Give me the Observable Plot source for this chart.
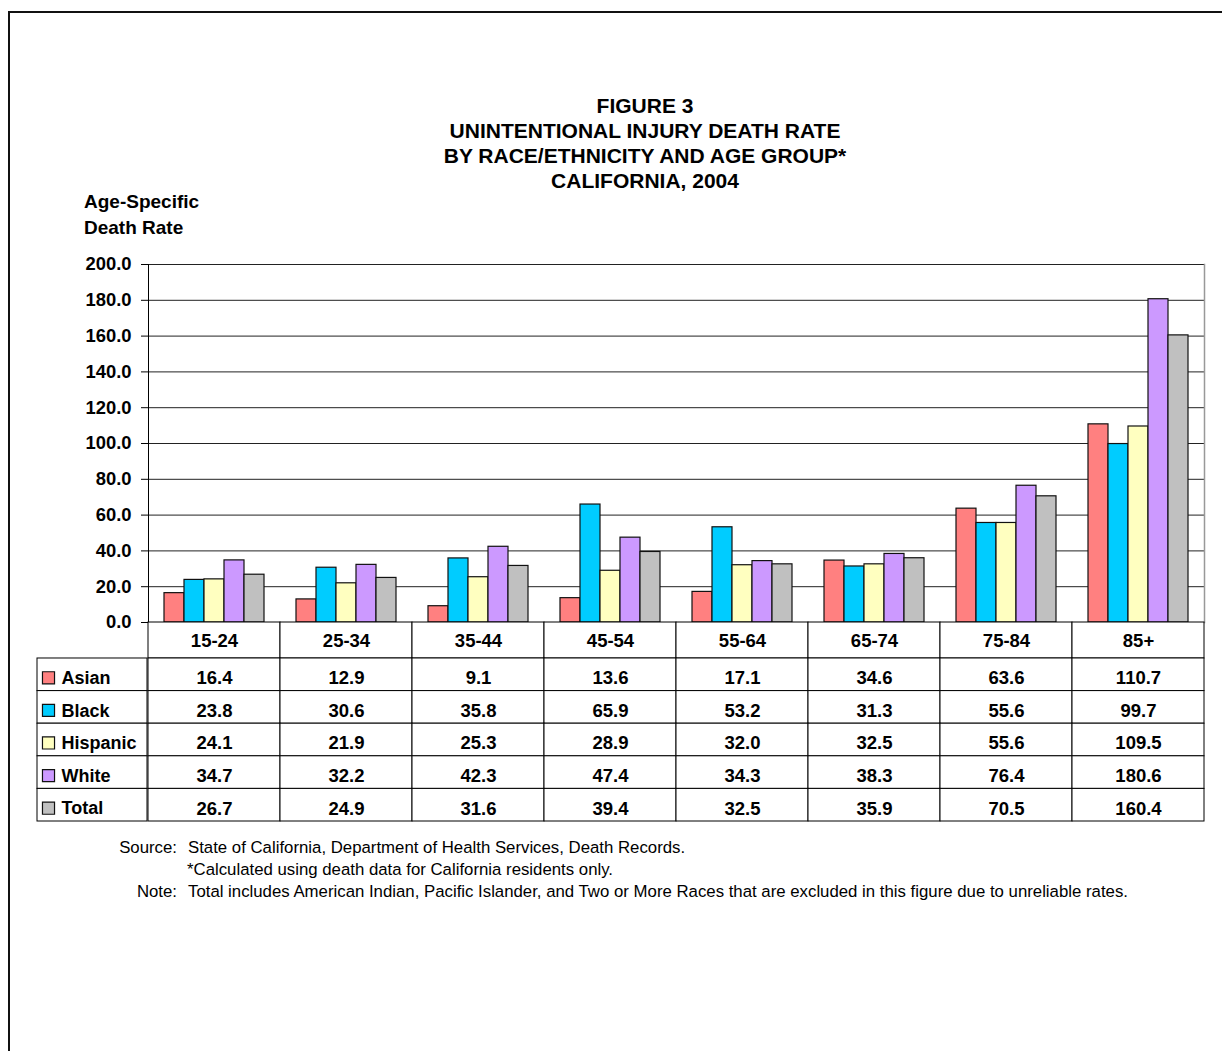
<!DOCTYPE html>
<html>
<head>
<meta charset="utf-8">
<script src="https://cdn.jsdelivr.net/npm/d3@7"></script>
<script src="https://cdn.jsdelivr.net/npm/@observablehq/plot@0.6"></script>
<style>
  html, body { margin: 0; padding: 0; background: #fff; }
  body { width: 1222px; height: 1051px; overflow: hidden; position: relative; font-family: "Liberation Sans", Arial, sans-serif; }
  #frame { position: absolute; left: 8px; top: 11px; width: 1400px; height: 1200px; border: 2px solid #111; }
  .abs { position: absolute; }
  #title { left: 0; width: 1290px; top: 93px; text-align: center; font-weight: bold; font-size: 21px; line-height: 25px; color: #000; }
  #ylabel { left: 84px; top: 189px; font-weight: bold; font-size: 19px; line-height: 26px; color: #000; }
  #foot { left: 0; top: 837px; font-size: 16.8px; line-height: 22px; color: #000; }
  #foot .row { position: relative; height: 22px; white-space: nowrap; }
  #foot .lab { position: absolute; right: calc(100% - 177px); }
  #foot .txt { position: absolute; left: 188px; }
</style>
</head>
<body>
<div id="frame"></div>
<div id="title" class="abs">FIGURE 3<br>UNINTENTIONAL INJURY DEATH RATE<br>BY RACE/ETHNICITY AND AGE GROUP*<br>CALIFORNIA, 2004</div>
<div id="ylabel" class="abs">Age-Specific<br>Death Rate</div>
<div id="chart" class="abs" style="left:0;top:250px;"></div>
<div id="table" class="abs" style="left:0;top:622px;"></div>
<div id="labels" class="abs" style="left:37px;top:622px;"></div>
<div id="foot" class="abs" style="width:1222px;">
  <div class="row"><span class="lab">Source:</span><span class="txt">State of California, Department of Health Services, Death Records.</span></div>
  <div class="row"><span class="txt" style="left:187px">*Calculated using death data for California residents only.</span></div>
  <div class="row"><span class="lab">Note:</span><span class="txt">Total includes American Indian, Pacific Islander, and Two or More Races that are excluded in this figure due to unreliable rates.</span></div>
</div>
<script>
const ages = ["15-24","25-34","35-44","45-54","55-64","65-74","75-84","85+"];
const races = ["Asian","Black","Hispanic","White","Total"];
const asian    = [16.4, 12.9,  9.1, 13.6, 17.1, 34.6, 63.6, 110.7];
const black    = [23.8, 30.6, 35.8, 65.9, 53.2, 31.3, 55.6,  99.7];
const hispanic = [24.1, 21.9, 25.3, 28.9, 32.0, 32.5, 55.6, 109.5];
const white    = [34.7, 32.2, 42.3, 47.4, 34.3, 38.3, 76.4, 180.6];
const total    = [26.7, 24.9, 31.6, 39.4, 32.5, 35.9, 70.5, 160.4];
const raceColors = ["#FF8080","#00CCFF","#FFFFC0","#CC99FF","#C0C0C0"];
const yTicks = [0,20,40,60,80,100,120,140,160,180,200];

const series = [asian, black, hispanic, white, total];
const rows = [];
races.forEach((r, i) => ages.forEach((a, j) => rows.push({age: a, race: r, ri: i, value: series[i][j]})));

const FONT = '"Liberation Sans", Arial, sans-serif';
const baseStyle = {fontFamily: FONT, fontWeight: "bold", fontSize: "18px", background: "transparent", overflow: "visible", color: "#000"};

const chart = Plot.plot({
  width: 1222, height: 372,
  marginLeft: 147, marginRight: 17, marginTop: 14, marginBottom: 0,
  style: baseStyle,
  fx: {domain: ages, padding: 0, axis: null},
  x: {domain: races, paddingInner: 0, paddingOuter: 0.72, axis: null},
  y: {domain: [0, 200], axis: null},
  color: {domain: races, range: raceColors},
  marks: [
    Plot.gridY(yTicks.filter(t => t > 0), {stroke: "#222", strokeOpacity: 1, strokeWidth: 1}),
    Plot.barY(rows, {fx: "age", x: "race", y: "value", fill: "race", stroke: "#111", strokeWidth: 1.2}),
    Plot.frame({anchor: "left", facetAnchor: "left", stroke: "#000", strokeWidth: 1}),
    Plot.frame({anchor: "right", facetAnchor: "right", stroke: "#999", strokeWidth: 1.5}),
    Plot.axisY({ticks: yTicks, tickFormat: d => d.toFixed(1), tickSize: 7, tickPadding: 10, label: null, fontSize: 18.4, fontWeight: "bold"})
  ]
});
document.getElementById("chart").appendChild(chart);

// table rows: a taller header row followed by one row per race (in row units)
const HEADER = 1.104;
const headerCells = ages.map(a => ({age: a, y1: 0, y2: HEADER, text: a}));
const valueCells = rows.map(d => ({age: d.age, y1: HEADER + d.ri, y2: HEADER + d.ri + 1, text: d.value.toFixed(1)}));
const labelCells = races.map((r, i) => ({race: r, y1: HEADER + i, y2: HEADER + i + 1}));
const tableY = {domain: [0, HEADER + races.length], reverse: true, axis: null};

const table = Plot.plot({
  width: 1222, height: 200,
  marginLeft: 147, marginRight: 17, marginTop: 0, marginBottom: 1,
  style: baseStyle,
  x: {domain: ages, padding: 0, axis: null},
  y: tableY,
  marks: [
    Plot.barY(headerCells.concat(valueCells), {x: "age", y1: "y1", y2: "y2", fill: "white", stroke: "#000", strokeWidth: 1}),
    Plot.text(headerCells, {x: "age", y: d => (d.y1 + d.y2) / 2, text: "text", dy: 1, fontSize: 18.5, fontWeight: "bold", fill: "#000"}),
    Plot.text(valueCells, {x: "age", y: d => (d.y1 + d.y2) / 2, text: "text", dy: 3.5, fontSize: 18.5, fontWeight: "bold", fill: "#000"})
  ]
});
document.getElementById("table").appendChild(table);

const labels = Plot.plot({
  width: 110, height: 200,
  marginLeft: 0, marginRight: 0, marginTop: 0, marginBottom: 1,
  style: baseStyle,
  y: tableY,
  color: {domain: races, range: raceColors},
  marks: [
    Plot.barY(labelCells, {y1: "y1", y2: "y2", fill: "white", stroke: "#000", strokeWidth: 1}),
    Plot.dot(labelCells, {y: d => (d.y1 + d.y2) / 2, frameAnchor: "left", dx: 11, dy: 3, symbol: "square", r: 6.8, fill: "race", stroke: "#111", strokeWidth: 1.2}),
    Plot.text(labelCells, {y: d => (d.y1 + d.y2) / 2, text: "race", frameAnchor: "left", dx: 24, dy: 3.5, textAnchor: "start", fontSize: 18, fontWeight: "bold", fill: "#000"})
  ]
});
document.getElementById("labels").appendChild(labels);
</script>
</body>
</html>
